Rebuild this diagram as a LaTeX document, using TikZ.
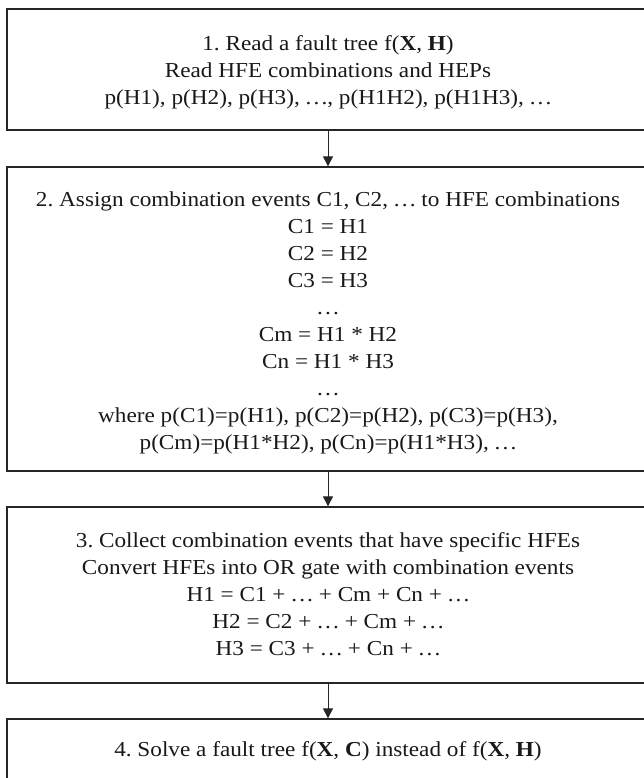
\documentclass[tikz,border=0pt]{standalone}
\usepackage{fontspec}
\setmainfont{Liberation Serif}[FakeStretch=1.09]
\usetikzlibrary{arrows.meta}
\frenchspacing
\newcommand\eld{\mbox{.\kern.1em.\kern.1em.}}
\tikzset{
  box/.style={draw=black!85, line width=1.3pt, rectangle, minimum width=642pt, inner sep=0pt},
  txt/.style={align=center, inner sep=0pt, font=\fontsize{21.3}{27}\selectfont\frenchspacing, text=black!90},
  arr/.style={draw=black!85, line width=1pt, -{Triangle[width=10pt,length=10pt]}}
}
\begin{document}
\begin{tikzpicture}[x=1pt,y=-1pt]
\useasboundingbox (0,0) rectangle (644,778);
\fill[white] (0,0) rectangle (644,778);
\node[box, minimum height=121pt] (b1) at (328,69.5) {};
\node[box, minimum height=304pt] (b2) at (328,319) {};
\node[box, minimum height=176pt] (b3) at (328,595) {};
\node[box, minimum height=82pt] (b4) at (328,760) {};
\node[txt] (t1) at (328,72) {1. Read a fault tree f(\textbf{X}, \textbf{H})\\
Read HFE combinations and HEPs\\
p(H1), p(H2), p(H3), \eld, p(H1H2), p(H1H3), \eld};
\node[txt] (t2) at (328,322.5) {2. Assign combination events C1, C2, \eld\ to HFE combinations\\
C1 = H1\\
C2 = H2\\
C3 = H3\\
\eld\\
Cm = H1 * H2\\
Cn = H1 * H3\\
\eld\\
where p(C1)=p(H1), p(C2)=p(H2), p(C3)=p(H3),\\
p(Cm)=p(H1*H2), p(Cn)=p(H1*H3), \eld};
\node[txt] (t3) at (328,594.5) {3. Collect combination events that have specific HFEs\\
Convert HFEs into OR gate with combination events\\
H1 = C1 + \eld\ + Cm + Cn + \eld\\
H2 = C2 + \eld\ + Cm + \eld\\
H3 = C3 + \eld\ + Cn + \eld};
\node[txt] (t4) at (328,751.5) {4. Solve a fault tree f(\textbf{X}, \textbf{C}) instead of f(\textbf{X}, \textbf{H})};
\draw[arr] (b1.south) -- (b2.north);
\draw[arr] (b2.south) -- (b3.north);
\draw[arr] (b3.south) -- (b4.north);
\end{tikzpicture}
\end{document}
